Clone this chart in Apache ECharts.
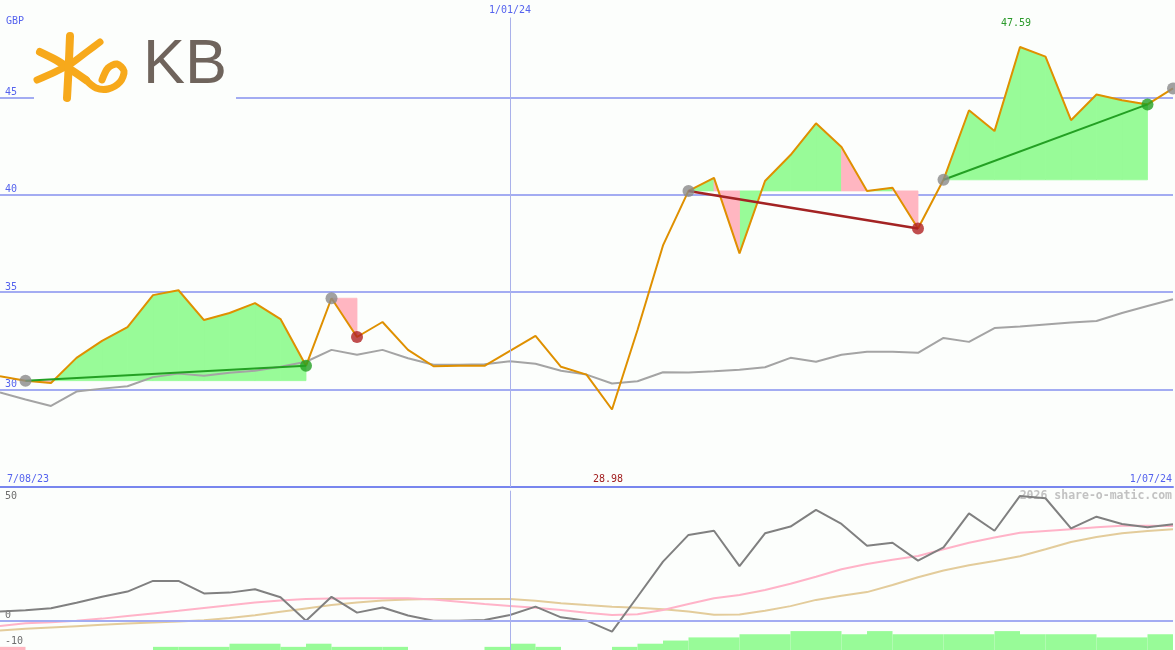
<!DOCTYPE html>
<html>
<head>
<meta charset="utf-8">
<script src="https://cdn.jsdelivr.net/npm/echarts@6/dist/echarts.min.js"></script>
<style>
html,body{margin:0;padding:0;background:#fcfefc;}
#chart{width:1175px;height:650px;}
</style>
</head>
<body>
<div id="chart"></div>
<script>
// ---------- data ----------
const dates = ['2023-08-14','2023-08-21','2023-08-28','2023-09-04','2023-09-11','2023-09-18','2023-09-25',
  '2023-10-02','2023-10-09','2023-10-16','2023-10-23','2023-10-30','2023-11-06','2023-11-13','2023-11-20',
  '2023-11-27','2023-12-04','2023-12-11','2023-12-18','2023-12-25','2024-01-01','2024-01-08','2024-01-15',
  '2024-01-22','2024-01-29','2024-02-05','2024-02-12','2024-02-19','2024-02-26','2024-03-04','2024-03-11',
  '2024-03-18','2024-03-25','2024-04-01','2024-04-08','2024-04-15','2024-04-22','2024-04-29','2024-05-06',
  '2024-05-13','2024-05-20','2024-05-27','2024-06-03','2024-06-10','2024-06-17','2024-06-24','2024-07-01'];
const price = [30.68,30.46,30.34,31.63,32.50,33.21,34.85,35.10,33.57,33.93,34.44,33.62,31.22,34.69,32.70,
  33.47,32.04,31.20,31.22,31.22,31.99,32.76,31.17,30.77,28.98,33.06,37.40,40.20,40.87,36.99,40.71,42.04,
  43.67,42.45,40.20,40.36,38.27,40.77,44.34,43.27,47.59,47.09,43.83,45.15,44.85,44.64,45.46];
const average = [29.85,29.49,29.16,29.90,30.05,30.17,30.64,30.82,30.71,30.87,30.97,31.17,31.43,32.04,31.79,
  32.04,31.61,31.28,31.28,31.30,31.45,31.33,30.97,30.77,30.31,30.43,30.89,30.88,30.94,31.02,31.15,31.63,
  31.43,31.79,31.94,31.94,31.89,32.65,32.45,33.16,33.24,33.34,33.44,33.52,33.93,34.29,34.64];
const osc = [3.5,4.0,4.8,6.9,9.2,11.2,15.3,15.3,10.5,10.8,12.1,9.0,0.0,9.2,3.1,5.1,2.0,0.0,0.0,0.3,
  2.2,5.4,1.3,0.0,-4.2,9.2,22.7,33.0,34.6,21.0,33.6,36.2,42.6,37.2,28.8,30.0,23.1,28.2,41.3,34.6,
  48.0,47.1,35.5,40.0,37.2,35.9,37.1];
const oscFast = [-2.0,-1.0,-0.6,0.0,0.8,1.8,2.8,3.8,4.9,5.9,7.0,7.8,8.3,8.5,8.6,8.6,8.6,8.2,7.3,6.4,
  5.7,5.0,4.1,3.1,2.2,2.5,4.1,6.4,8.6,9.9,11.8,14.2,16.9,19.8,21.8,23.4,24.9,27.5,30.0,32.0,
  33.8,34.5,35.2,35.9,36.5,36.5,36.4];
const oscSlow = [-3.8,-3.1,-2.6,-2.1,-1.6,-1.1,-0.7,-0.3,0.2,1.0,2.1,3.4,4.7,6.0,7.0,7.8,8.2,8.3,8.3,8.3,
  8.3,7.7,6.7,6.0,5.4,5.0,4.4,3.5,2.3,2.4,3.8,5.6,8.0,9.6,11.0,13.7,16.7,19.3,21.3,23.0,
  24.8,27.5,30.3,32.2,33.6,34.5,35.2];
// histogram per weekly interval (negative = pink)
const hist = [-1,0,0,0,0,0,1,1,1,2,2,1,2,1,1,1,0,0,0,1,2,1,0,0,1,2,3,4,4,5,5,6,6,5,6,5,5,5,5,6,5,5,5,4,4,5];
// trend zones [start, end] and segment tones
const zones = [[1,12],[13,14],[27,36],[37,45]];
const fillUp = [2,3,4,5,6,7,8,9,10,11,27,29,30,31,32,34,37,38,39,40,41,42,43,44];
const fillDown = [1,13,28,33,35];
const trendUp = [[1,12],[37,45]];
const trendDown = [[27,36]];
const dotGray = [1,13,27,37,46];
const dotGreen = [12,45];
const dotRed = [14,36];
const priceTicks = [30,35,40,45];
const oscTicks = [50,0,-10];
const currency = 'GBP';
const startLabel = '7/08/23', endLabel = '1/07/24', midLabel = '1/01/24', midDate = '2024-01-01';

// ---------- build ----------
const ts = d => new Date(d + 'T00:00:00').getTime();
const t = dates.map(ts);
const tMid = ts(midDate);
const pts = arr => arr.map((v, i) => [t[i], v]);
const FONT = 'DejaVu Sans Mono';
const BLUE = '#5563ee';
const GRIDC = '#a3acf2';
const ORANGE = '#f7a91b';

function zoneBase(i) {
  for (const [a, b] of zones) if (i >= a && i < b) return price[a];
  return price[i];
}
const segs = fillUp.map(i => [i, 1, t[i], price[i]]).concat(fillDown.map(i => [i, -1, t[i], price[i]]));
let imax = 0, imin = 0;
price.forEach((v, i) => { if (v > price[imax]) imax = i; if (v < price[imin]) imin = i; });

const xCommon = {type: 'time', min: t[0], max: t[t.length - 1], axisLabel: {show: false}, axisTick: {show: false}, splitLine: {show: false}};

const series = [];
// fills
series.push({
  type: 'custom', xAxisIndex: 0, yAxisIndex: 0, z: 1, silent: true,
  encode: {x: 2, y: 3},
  data: segs,
  renderItem(params, api) {
    const i = api.value(0), s = api.value(1), b = zoneBase(i);
    const p = [[t[i], b], [t[i], price[i]], [t[i + 1], price[i + 1]], [t[i + 1], b]].map(q => api.coord(q));
    const c = s > 0 ? '#98fb98' : '#ffb6c1';
    return {type: 'polygon', shape: {points: p}, style: {fill: c, stroke: c, lineWidth: 0.8}};
  }
});
// average
series.push({
  type: 'line', xAxisIndex: 0, yAxisIndex: 0, z: 2, data: pts(average), symbol: 'none', silent: true,
  lineStyle: {color: '#a4a4a4', width: 2},
  markLine: {
    silent: true, symbol: 'none', animation: false,
    lineStyle: {color: '#a9b1ea', width: 1, type: 'solid'},
    label: {show: true, position: 'start', formatter: midLabel, color: BLUE, fontFamily: FONT, fontSize: 10, distance: 2},
    data: [[{coord: [tMid, 49.1]}, {coord: [tMid, 25]}]]
  }
});
// price
series.push({
  type: 'line', xAxisIndex: 0, yAxisIndex: 0, z: 3, data: pts(price), symbol: 'none', silent: true,
  lineStyle: {color: '#df9000', width: 2},
  markPoint: {
    symbol: 'circle', symbolSize: 0, silent: true, animation: false,
    data: [
      {coord: [t[imax], 50], label: {show: true, position: 'inside', offset: [-4, 23], formatter: price[imax].toFixed(2), color: '#2a9a2a', fontFamily: FONT, fontSize: 10}},
      {coord: [t[imin], 25], label: {show: true, position: 'inside', offset: [-4, -8], formatter: price[imin].toFixed(2), color: '#a01c1c', fontFamily: FONT, fontSize: 10}}
    ]
  }
});
// trend lines
trendUp.forEach(([a, b]) => series.push({
  type: 'line', xAxisIndex: 0, yAxisIndex: 0, z: 4, symbol: 'none', silent: true,
  data: [[t[a], price[a]], [t[b], price[b]]], lineStyle: {color: '#23a023', width: 2}
}));
trendDown.forEach(([a, b]) => series.push({
  type: 'line', xAxisIndex: 0, yAxisIndex: 0, z: 4, symbol: 'none', silent: true,
  data: [[t[a], price[a]], [t[b], price[b]]], lineStyle: {color: '#a32323', width: 2.5}
}));
// dots
[[dotGray, '#8a8a8a'], [dotGreen, '#23a023'], [dotRed, '#b02222']].forEach(([idx, c]) => series.push({
  type: 'scatter', xAxisIndex: 0, yAxisIndex: 0, z: 5, silent: true, symbolSize: 12,
  data: idx.map(i => [t[i], price[i]]), itemStyle: {color: c}
}));
// oscillator panel
series.push({type: 'line', xAxisIndex: 1, yAxisIndex: 1, z: 2, data: pts(oscSlow), symbol: 'none', silent: true, lineStyle: {color: '#e3cc9b', width: 2}});
series.push({type: 'line', xAxisIndex: 1, yAxisIndex: 1, z: 2, data: pts(oscFast), symbol: 'none', silent: true, lineStyle: {color: '#ffb3c8', width: 2}});
series.push({
  type: 'line', xAxisIndex: 1, yAxisIndex: 1, z: 3, data: pts(osc), symbol: 'none', silent: true,
  lineStyle: {color: '#808080', width: 2},
  markLine: {
    silent: true, symbol: 'none', animation: false, label: {show: false},
    data: [
      {yAxis: 0, lineStyle: {color: GRIDC, width: 2, type: 'solid'}},
      {xAxis: tMid, lineStyle: {color: '#a9b1ea', width: 1, type: 'solid'}}
    ]
  }
});
// histogram
series.push({
  type: 'custom', xAxisIndex: 2, yAxisIndex: 2, z: 2, silent: true,
  encode: {x: 2, y: 3},
  data: hist.map((v, k) => [k, v, t[k], Math.abs(v)]),
  renderItem(params, api) {
    const k = api.value(0), v = api.value(1);
    if (!v) return null;
    const p0 = api.coord([t[k], 0]), p1 = api.coord([t[k + 1], Math.abs(v)]);
    return {type: 'rect', shape: {x: p0[0], y: p1[1], width: p1[0] - p0[0], height: p0[1] - p1[1]},
      style: {fill: v > 0 ? '#98fb98' : '#ffb6c1'}};
  },
  markLine: {silent: true, symbol: 'none', animation: false, label: {show: false},
    lineStyle: {color: '#a9b1ea', width: 1, type: 'solid'}, data: [{xAxis: tMid}]}
});

const textStyle = (x, y, text, color, align) => ({
  type: 'text', x, y, silent: true, z: 10,
  style: {text, fill: color, font: '10px "' + FONT + '"', align: align || 'left', verticalAlign: 'middle'}
});
const stroke = (points, w) => ({
  type: 'polyline', z: 9, silent: true, shape: {points, smooth: 0.3},
  style: {stroke: ORANGE, lineWidth: w, lineCap: 'round', lineJoin: 'round', fill: null}
});

const option = {
  animation: false,
  backgroundColor: '#fcfefc',
  grid: [
    {left: 0, width: 1173, top: -2, height: 489},
    {left: 0, width: 1173, top: 490.7, height: 156},
    {left: 0, width: 1173, top: 599.6, height: 50.4}
  ],
  xAxis: [
    Object.assign({gridIndex: 0, axisLine: {show: true, onZero: false, lineStyle: {color: '#7886ee', width: 2}}}, xCommon),
    Object.assign({gridIndex: 1, axisLine: {show: false}}, xCommon),
    Object.assign({gridIndex: 2, axisLine: {show: false}}, xCommon)
  ],
  yAxis: [
    {gridIndex: 0, type: 'value', min: 25, max: 50, interval: 5,
      axisLine: {show: false}, axisTick: {show: false},
      splitLine: {show: true, lineStyle: {color: [GRIDC, GRIDC, GRIDC, GRIDC, GRIDC, 'rgba(0,0,0,0)'], width: 2}},
      axisLabel: {inside: true, margin: 5, verticalAlign: 'bottom', color: BLUE, fontFamily: FONT, fontSize: 10,
        formatter: v => priceTicks.indexOf(v) >= 0 ? String(v) : ''}},
    {gridIndex: 1, type: 'value', min: -10, max: 50, interval: 10,
      axisLine: {show: false}, axisTick: {show: false}, splitLine: {show: false},
      axisLabel: {inside: true, margin: 5, verticalAlign: 'bottom', color: '#6e6e6e', fontFamily: FONT, fontSize: 10,
        formatter: v => (oscTicks.indexOf(v) >= 0 && v !== oscTicks[0]) ? String(v) : ''}},
    {gridIndex: 2, type: 'value', min: 0, max: 16, show: false}
  ],
  graphic: [
    // logo
    {type: 'rect', shape: {x: 34, y: 30, width: 202, height: 72}, style: {fill: '#fcfefc'}, z: 8, silent: true},
    stroke([[40, 52], [56, 60], [70, 69], [86, 80]], 8),
    stroke([[37, 80], [55, 72], [72, 63], [88, 51], [100, 42]], 7),
    stroke([[70, 36], [69, 60], [68, 80], [67, 98]], 8),
    stroke([[86, 80], [96, 88], [108, 89], [120, 82], [124, 71], [117, 64], [108, 68], [102, 80]], 7),
    {type: 'text', x: 143, y: 66, z: 9, silent: true, style: {text: 'KB', fill: '#6f645c', font: '63px "Liberation Sans"', align: 'left', verticalAlign: 'middle'}},
    // labels
    textStyle(6, 21, currency, BLUE),
    textStyle(7, 479, startLabel, BLUE),
    textStyle(1172, 479, endLabel, BLUE, 'right'),
    textStyle(5, 496, String(oscTicks[0]), '#6e6e6e'),
    {type: 'text', x: 1172, y: 496, z: 0, silent: true,
      style: {text: '2026 share-o-matic.com', fill: '#c2c2c2', font: 'bold 11.5px "' + FONT + '"', align: 'right', verticalAlign: 'middle'}}
  ],
  series
};

const chart = echarts.init(document.getElementById('chart'));
chart.setOption(option);
</script>
</body>
</html>
